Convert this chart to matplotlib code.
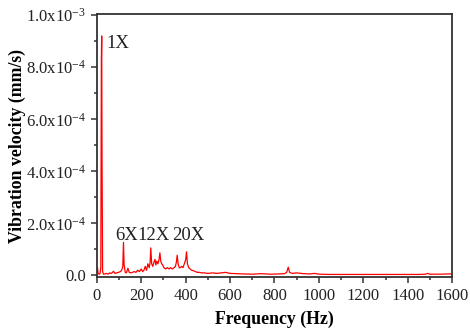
import matplotlib
matplotlib.use('Agg')
import matplotlib.pyplot as plt
from matplotlib.ticker import FixedLocator, MultipleLocator
import numpy as np

plt.rcParams['font.family'] = ['Liberation Serif', 'DejaVu Serif']

# spectrum (freq in Hz, velocity in 1e-4 mm/s)
freq = [0, 3, 6, 10, 14, 18, 20.5, 22, 23.5, 26, 30, 35, 42, 50, 58, 66, 75, 82,
        90, 98, 106, 112, 117, 120, 123, 128, 133, 140, 146, 152, 160, 168, 176,
        184, 192, 200, 206, 212, 218, 224, 230, 236, 240, 243, 247, 252, 257,
        262, 266, 270, 275, 280, 284, 288, 292, 297, 302, 310, 318, 325, 332,
        340, 348, 354, 358, 362, 366, 371, 376, 382, 388, 394, 400, 404, 408,
        414, 420, 428, 436, 444, 452, 462, 472, 485, 500, 520, 540, 560, 580,
        600, 630, 660, 700, 740, 780, 820, 845, 855, 862, 868, 880, 900, 930,
        960, 980, 1000, 1050, 1100, 1150, 1200, 1250, 1300, 1350, 1400, 1450,
        1480, 1490, 1500, 1550, 1580, 1600]
vel = [0.12, 0.3, 0.08, 0.05, 0.06, 0.3, 8.3, 9.2, 4.5, 0.15, 0.05, 0.06, 0.08,
       0.05, 0.1, 0.08, 0.16, 0.08, 0.1, 0.12, 0.15, 0.2, 0.35, 1.27, 0.4, 0.12,
       0.1, 0.28, 0.12, 0.1, 0.12, 0.15, 0.12, 0.2, 0.15, 0.25, 0.15, 0.2, 0.35,
       0.2, 0.45, 0.3, 0.5, 1.06, 0.45, 0.35, 0.5, 0.62, 0.4, 0.55, 0.45, 0.6,
       0.87, 0.55, 0.45, 0.4, 0.3, 0.25, 0.3, 0.25, 0.3, 0.25, 0.3, 0.35, 0.5,
       0.78, 0.45, 0.3, 0.3, 0.35, 0.3, 0.45, 0.6, 0.91, 0.45, 0.3, 0.25, 0.2,
       0.18, 0.15, 0.12, 0.12, 0.1, 0.1, 0.08, 0.1, 0.08, 0.1, 0.12, 0.08, 0.07,
       0.06, 0.05, 0.07, 0.05, 0.06, 0.07, 0.12, 0.32, 0.12, 0.08, 0.1, 0.07,
       0.06, 0.08, 0.05, 0.04, 0.04, 0.04, 0.04, 0.04, 0.04, 0.04, 0.04, 0.04,
       0.05, 0.08, 0.05, 0.05, 0.06, 0.06]

yticks = [0, 2e-4, 4e-4, 6e-4, 8e-4, 1e-3]
ylabels = ['0.0', r'$\mathregular{2.0x10^{-4}}$', r'$\mathregular{4.0x10^{-4}}$',
           r'$\mathregular{6.0x10^{-4}}$', r'$\mathregular{8.0x10^{-4}}$',
           r'$\mathregular{1.0x10^{-3}}$']

orders = ['1X', '6X', '12X', '20X']
order_pos = [(45, 8.75e-4), (81, 1.37e-4), (185, 1.37e-4), (338, 1.37e-4)]

fig = plt.figure(figsize=(4.7, 3.35), dpi=100)
ax = fig.add_axes([0.206, 0.173, 0.756, 0.785])

ax.plot(freq, np.array(vel) * 1e-4, color='red', lw=0.9)

for lab, (x, y) in zip(orders, order_pos):
    ax.text(x, y, lab, fontsize=13.5, color='#222222', va='baseline', ha='left')

ax.set_xlim(0, 1600)
ax.set_ylim(-0.06e-4, 1.004e-3)
ax.xaxis.set_major_locator(MultipleLocator(200))
ax.xaxis.set_minor_locator(MultipleLocator(100))
ax.yaxis.set_major_locator(FixedLocator(yticks))
ax.set_yticklabels(ylabels)
ax.yaxis.set_minor_locator(MultipleLocator(1e-4))

ax.tick_params(which='major', direction='out', length=4, width=1.1, pad=4,
               labelsize=12, colors='#333333', labelcolor='#222222')
ax.tick_params(which='minor', direction='out', length=2.5, width=1.1, colors='#333333')
ax.tick_params(top=False, right=False, which='both')
for s in ax.spines.values():
    s.set_linewidth(1.3)
    s.set_color('#333333')

ax.set_xlabel('Frequency (Hz)', fontsize=12.8, fontweight='bold', labelpad=5)
ax.set_ylabel('Vibration velocity (mm/s)', fontsize=12.8, fontweight='bold')
ax.yaxis.set_label_coords(-0.2, 0.5)

fig.savefig('out.png', dpi=100)
